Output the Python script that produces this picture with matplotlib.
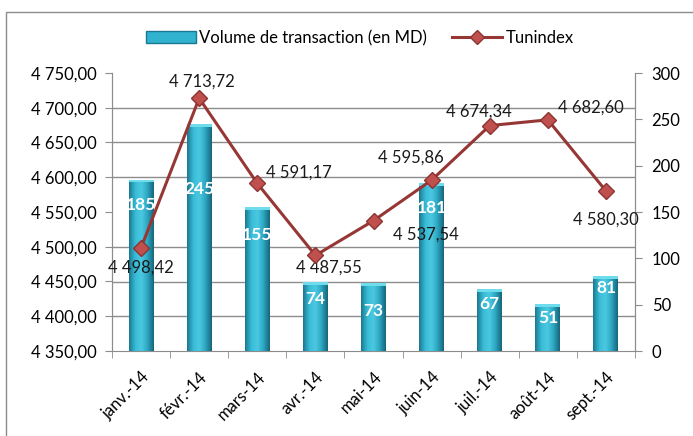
import numpy as np
import matplotlib
matplotlib.use("Agg")
import matplotlib.pyplot as plt
from matplotlib.patches import Rectangle, Patch
from matplotlib.lines import Line2D
from matplotlib.colors import LinearSegmentedColormap

plt.rcParams['font.family'] = ['Lato', 'DejaVu Sans']

# données
mois = ['janv.-14', 'févr.-14', 'mars-14', 'avr.-14', 'mai-14',
        'juin-14', 'juil.-14', 'août-14', 'sept.-14']
volume = [185, 245, 155, 74, 73, 181, 67, 51, 81]
tunindex = [4498.42, 4713.72, 4591.17, 4487.55, 4537.54,
            4595.86, 4674.34, 4682.60, 4580.30]

# décalages des étiquettes (points)
off_vol = [-18, -47, -20, -12, -20, -18, -11, -10, -9]
off_tun = [(0, -14), (2, 12), (30, 8), (10, -9), (38, -10),
           (-15, 16), (-8, 10), (31, 9), (0, -21)]


def fmt_fr(v, pos=None):
    s = '{:,.2f}'.format(v)
    return s.replace(',', ' ').replace('.', ',')


fig = plt.figure(figsize=(6.93, 4.36), dpi=100)
ax = fig.add_axes([112 / 693, 85 / 436, 523 / 693, 278 / 436])
ax2 = ax.twinx()

x = np.arange(len(mois))
grid_col = '#8c8c8c'
fs = 12

# barres (axe de droite)
bars = ax.bar(x, volume, width=0.43, color='#31b3cf', zorder=2)
cmap = LinearSegmentedColormap.from_list(
    'cyl', ['#1c7890', '#38bcd7', '#4cc9e1', '#2ba6c2', '#176479'])
grad = np.linspace(0, 1, 64).reshape(1, -1)
for b in bars:
    x0, w, h = b.get_x(), b.get_width(), b.get_height()
    im = ax.imshow(grad, cmap=cmap, aspect='auto', zorder=3,
                   extent=[x0, x0 + w, 0, h], interpolation='bicubic')
    im.set_clip_path(b)
    ax.add_patch(Rectangle((x0, h - 3), w, 3, color='#6fdcee', zorder=4, lw=0))
for xi, v, o in zip(x, volume, off_vol):
    ax.annotate(str(v), (xi, v), xytext=(0, o), textcoords='offset points',
                ha='center', va='center', color='white', fontsize=12.5,
                fontweight='bold', zorder=6)

ax.set_xlim(-0.5, len(mois) - 0.5)
ax.set_ylim(0, 300)
ax.set_yticks(np.arange(0, 301, 50))
ax.set_yticks(np.linspace(0, 300, 9), minor=True)
ax.grid(which='minor', axis='y', color=grid_col, lw=1, zorder=0)
ax.set_axisbelow(True)
ax.yaxis.tick_right()
ax.tick_params(axis='y', which='major', length=5, color=grid_col,
               labelsize=fs, pad=7)
ax.tick_params(axis='y', which='minor', length=0)

ax.set_xticks(x)
ax.set_xticklabels(mois, rotation=45, ha='right', rotation_mode='anchor',
                   fontsize=fs)
ax.set_xticks(np.arange(-0.5, len(mois), 1), minor=True)
ax.tick_params(axis='x', which='major', length=0, pad=13)
ax.tick_params(axis='x', which='minor', length=5, color=grid_col)

# ligne Tunindex (axe de gauche)
ax2.plot(x, tunindex, color='#963735', lw=2.2, marker='D', markersize=8,
         markerfacecolor='#c0504d', markeredgecolor='#8c3432', zorder=5)
for xi, v, o in zip(x, tunindex, off_tun):
    ax2.annotate(fmt_fr(v), (xi, v), xytext=o, textcoords='offset points',
                 ha='center', va='center', fontsize=fs, color='#1a1a1a')
ax2.set_ylim(4350, 4750)
ax2.set_yticks(np.arange(4350, 4751, 50))
ax2.yaxis.set_major_formatter(plt.FuncFormatter(fmt_fr))
ax2.yaxis.tick_left()
ax2.tick_params(axis='y', length=5, color=grid_col, labelsize=fs, pad=6)

for a in (ax, ax2):
    a.spines['top'].set_visible(False)
    for s in ('left', 'right', 'bottom'):
        a.spines[s].set_color(grid_col)
ax2.spines['bottom'].set_visible(False)

# légende
handles = [Patch(facecolor='#31b3cf', edgecolor='#1c7890'),
           Line2D([0], [0], color='#963735', lw=2.2, marker='D', markersize=7,
                  markerfacecolor='#c0504d', markeredgecolor='#8c3432')]
fig.legend(handles, ['Volume de transaction (en MD)', 'Tunindex'],
           loc='center', bbox_to_anchor=(360 / 693, 1 - 38 / 436), ncol=2,
           frameon=False, fontsize=fs, handlelength=3.0, columnspacing=1.5,
           handletextpad=0.2)

# cadre
fig.patches.append(Rectangle((6 / 693, -0.1), 1.1, 1.1 - 12 / 436,
                             transform=fig.transFigure, fill=False,
                             edgecolor='#8c8c8c', lw=1))

fig.savefig('out.png', dpi=100)
